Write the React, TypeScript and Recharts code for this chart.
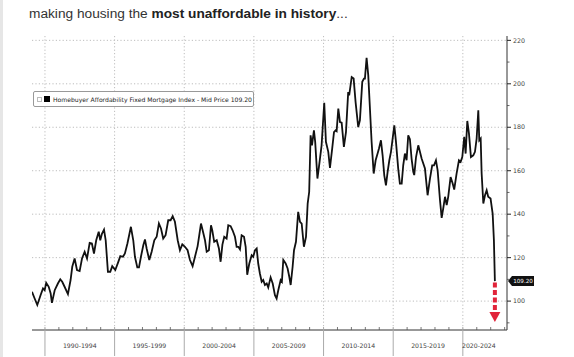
import React from 'react';
import { LineChart, Line, XAxis, YAxis, CartesianGrid, ReferenceDot } from 'recharts';

const years = [
  1989.07, 1989.26, 1989.45, 1989.69, 1989.86, 1989.98, 1990.09, 1990.27, 1990.41, 1990.5,
  1990.7, 1990.93, 1991.1, 1991.24, 1991.41, 1991.65, 1991.84, 1991.96, 1992.13, 1992.3,
  1992.49, 1992.66, 1992.85, 1993.02, 1993.21, 1993.37, 1993.52, 1993.68, 1993.86, 1993.97,
  1994.09, 1994.24, 1994.36, 1994.52, 1994.69, 1994.83, 1995.05, 1995.24, 1995.41, 1995.6,
  1995.74, 1995.92, 1996.17, 1996.34, 1996.46, 1996.63, 1996.75, 1996.89, 1997.06, 1997.18,
  1997.3, 1997.49, 1997.66, 1997.85, 1998.02, 1998.18, 1998.33, 1998.49, 1998.66, 1998.85,
  1999.02, 1999.17, 1999.33, 1999.53, 1999.69, 1999.86, 2000.05, 2000.24, 2000.41, 2000.6,
  2000.77, 2000.96, 2001.06, 2001.2, 2001.32, 2001.49, 2001.61, 2001.77, 2001.92, 2002.01,
  2002.15, 2002.33, 2002.49, 2002.61, 2002.74, 2002.87, 2003.04, 2003.16, 2003.33, 2003.47,
  2003.64, 2003.76, 2003.88, 2004.0, 2004.12, 2004.29, 2004.41, 2004.52, 2004.67, 2004.84,
  2004.95, 2005.08, 2005.2, 2005.31, 2005.43, 2005.56, 2005.67, 2005.79, 2005.92, 2006.03,
  2006.2, 2006.35, 2006.51, 2006.63, 2006.75, 2006.92, 2007.01, 2007.11, 2007.28, 2007.42,
  2007.54, 2007.64, 2007.78, 2007.88, 2008.02, 2008.18, 2008.31, 2008.43, 2008.59, 2008.74,
  2008.86, 2008.97, 2009.07, 2009.17, 2009.31, 2009.4, 2009.56, 2009.67, 2009.86, 2010.05,
  2010.17, 2010.34, 2010.46, 2010.62, 2010.75, 2010.87, 2010.94, 2011.06, 2011.18, 2011.3,
  2011.46, 2011.61, 2011.77, 2011.84, 2012.02, 2012.16, 2012.3, 2012.49, 2012.61, 2012.78,
  2012.9, 2012.97, 2013.09, 2013.21, 2013.33, 2013.45, 2013.6, 2013.74, 2013.88, 2013.98,
  2014.12, 2014.24, 2014.36, 2014.48, 2014.6, 2014.72, 2014.84, 2014.96, 2015.08, 2015.2,
  2015.36, 2015.48, 2015.61, 2015.72, 2015.84, 2015.96, 2016.08, 2016.2, 2016.32, 2016.44,
  2016.51, 2016.64, 2016.8, 2016.92, 2017.04, 2017.28, 2017.47, 2017.64, 2017.8, 2017.93,
  2018.07, 2018.19, 2018.36, 2018.48, 2018.59, 2018.72, 2018.84, 2018.95, 2019.12, 2019.27,
  2019.38, 2019.55, 2019.72, 2019.84, 2019.96, 2020.1, 2020.2, 2020.32, 2020.44, 2020.58,
  2020.75, 2020.87, 2020.99, 2021.11, 2021.18, 2021.28, 2021.35, 2021.47, 2021.59, 2021.71,
  2021.82, 2021.99, 2022.14, 2022.23, 2022.3,
];

const affordability = [
  104.3, 101.2, 98.2, 102.8, 105.8, 105.0, 108.4, 106.6, 103.5, 99.2,
  105.0, 108.1, 110.0, 108.9, 106.6, 103.2, 109.7, 115.8, 119.6, 114.3,
  113.8, 119.6, 122.7, 119.6, 126.8, 126.5, 121.9, 128.0, 131.9, 128.0,
  131.0, 132.9, 128.0, 113.5, 113.5, 116.1, 114.3, 117.6, 120.7, 120.4,
  121.9, 126.5, 134.2, 128.0, 120.4, 115.5, 115.5, 120.4, 125.7, 128.4,
  124.2, 118.9, 122.7, 128.0, 129.6, 135.7, 133.4, 128.8, 130.3, 137.2,
  137.2, 139.1, 136.5, 128.0, 123.4, 126.1, 125.0, 123.4, 118.9, 116.1,
  120.4, 125.3, 129.6, 135.7, 132.6, 128.0, 122.7, 123.4, 134.9, 132.6,
  127.3, 128.0, 124.2, 118.1, 126.0, 129.6, 128.8, 134.9, 134.5, 132.6,
  129.6, 125.0, 125.0, 123.8, 130.3, 129.6, 125.0, 112.1, 117.3, 121.1,
  120.4, 123.4, 124.2, 117.3, 112.7, 108.9, 109.7, 107.4, 108.1, 106.3,
  110.9, 108.1, 102.7, 101.2, 105.0, 109.7, 108.9, 118.9, 117.3, 115.0,
  111.2, 107.4, 115.8, 123.4, 127.3, 141.1, 136.5, 135.7, 125.0, 129.6,
  144.9, 150.3, 176.3, 171.7, 178.6, 173.3, 156.4, 161.8, 171.7, 191.3,
  173.3, 168.7, 161.3, 170.2, 177.8, 178.6, 178.2, 188.6, 182.4, 182.1,
  171.0, 177.8, 196.2, 194.7, 203.1, 202.4, 191.6, 180.1, 183.2, 200.9,
  202.4, 202.4, 211.9, 203.9, 188.6, 173.3, 158.7, 164.8, 167.9, 170.2,
  174.0, 167.1, 157.9, 153.3, 159.5, 164.7, 168.7, 174.8, 180.9, 173.3,
  161.0, 154.1, 154.1, 162.5, 167.9, 164.8, 176.3, 174.5, 165.6, 159.5,
  158.0, 166.3, 171.7, 168.7, 165.6, 161.0, 148.7, 156.4, 162.5, 162.5,
  164.8, 160.2, 146.4, 138.3, 142.6, 148.0, 144.2, 148.0, 157.1, 154.1,
  151.3, 158.7, 164.8, 164.1, 166.3, 175.6, 167.9, 182.9, 177.1, 166.3,
  167.1, 168.7, 174.8, 187.8, 174.0, 174.8, 158.7, 144.9, 148.7, 151.0,
  148.0, 147.2, 140.3, 128.0, 109.2,
];

const periodLabels = ['1990-1994', '1995-1999', '2000-2004', '2005-2009', '2010-2014', '2015-2019', '2020-2024'];
const periodLabelYears = [1992.5, 1997.5, 2002.5, 2007.5, 2012.5, 2017.5, 2021.15];
const periodStarts = [1990, 1995, 2000, 2005, 2010, 2015, 2020];
const minorYears = [1991, 1992, 1993, 1994, 1996, 1997, 1998, 1999, 2001, 2002, 2003, 2004, 2006, 2007, 2008, 2009, 2011, 2012, 2013, 2014, 2016, 2017, 2018, 2019, 2021, 2022, 2023];
const yMajorTicks = [100, 120, 140, 160, 180, 200, 220];
const yMinorTicks = [90, 110, 130, 150, 170, 190, 210];
const arrowValues = [108.6, 94.5];

const seriesName = 'Homebuyer Affordability Fixed Mortgage Index - Mid Price';
const title = { normal: 'making housing the ', bold: 'most unaffordable in history', tail: '...' };

const data = years.map((x, i) => ({ x, v: affordability[i] }));
const lastYear = years[years.length - 1];
const lastValue = affordability[affordability.length - 1];
const arrowData = arrowValues.map((a) => ({ x: lastYear, a }));

const X_MIN = 1989.07;
const X_MAX = 2023.17;

const labelSet = new Set(periodLabelYears);
const startSet = new Set(periodStarts);

const axisFont = '"DejaVu Sans", sans-serif';

const XTick = (props: any) => {
  const { x, y, payload } = props;
  const v = payload.value;
  if (labelSet.has(v)) {
    const idx = periodLabelYears.indexOf(v);
    return (
      <text x={x} y={y + 18} textAnchor="middle" fontSize={6.2} fontFamily={axisFont} fill="#444">
        {periodLabels[idx]}
      </text>
    );
  }
  if (startSet.has(v)) {
    return <line x1={x} y1={y - 3} x2={x} y2={y + 26} stroke="#aaa" strokeWidth={1} />;
  }
  return <line x1={x} y1={y} x2={x} y2={y - 3} stroke="#555" strokeWidth={0.8} />;
};

const YTick = (props: any) => {
  const { x, y, payload } = props;
  const v = payload.value;
  if (v % 20 === 0) {
    return (
      <g>
        <line x1={x} y1={y} x2={x + 4} y2={y} stroke="#222" strokeWidth={1} />
        <text x={x + 6} y={y + 2.2} fontSize={6.3} fontFamily={axisFont} fill="#444">
          {v}
        </text>
      </g>
    );
  }
  return <line x1={x} y1={y} x2={x + 2.5} y2={y} stroke="#444" strokeWidth={0.8} />;
};

const LastValueTag = (props: any) => {
  const { cx, cy } = props;
  if (cx == null || cy == null) return null;
  const x0 = cx + 1;
  const h = 10;
  const w = 26;
  const path = `M ${x0} ${cy} L ${x0 + 4} ${cy - h / 2} L ${x0 + w} ${cy - h / 2} L ${x0 + w} ${cy + h / 2} L ${x0 + 4} ${cy + h / 2} Z`;
  return (
    <g>
      <path d={path} fill="#111" />
      <text x={x0 + 4 + (w - 4) / 2} y={cy + 2} textAnchor="middle" fontSize={5.6} fontFamily={axisFont} fill="#fff">
        {lastValue.toFixed(2)}
      </text>
    </g>
  );
};

const ArrowHead = (props: any) => {
  const { cx, cy, index } = props;
  if (index !== arrowData.length - 1 || cx == null) return <g key={`ah${index}`} />;
  return (
    <polygon
      key={`ah${index}`}
      points={`${cx - 5.5},${cy - 1} ${cx + 5.5},${cy - 1} ${cx},${cy + 9}`}
      fill="#e1243a"
    />
  );
};

export default function App() {
  return (
    <div style={{ position: 'absolute', left: 0, top: 0, width: 574, height: 357, background: '#fff', overflow: 'hidden' }}>
      <div style={{ position: 'absolute', left: 0, top: 0, width: 3, height: 357, background: '#e6e6e6' }} />
      <LineChart width={574} height={357} data={data} margin={{ top: 36, right: 7, bottom: 0, left: 32 }}>
        <CartesianGrid
          stroke="#bdbdbd"
          strokeDasharray="1.2 2.2"
          horizontalValues={yMajorTicks}
          verticalValues={periodStarts}
        />
        <XAxis
          dataKey="x"
          type="number"
          domain={[X_MIN, X_MAX]}
          allowDataOverflow
          ticks={[...periodStarts, ...minorYears, ...periodLabelYears]}
          interval={0}
          tick={<XTick />}
          tickLine={false}
          tickSize={0}
          tickMargin={0}
          height={27}
          axisLine={{ stroke: '#333', strokeWidth: 1 }}
        />
        <YAxis
          orientation="right"
          type="number"
          domain={[86.7, 222]}
          allowDataOverflow
          ticks={[...yMinorTicks, ...yMajorTicks].sort((a, b) => a - b)}
          interval={0}
          tick={<YTick />}
          tickLine={false}
          tickSize={0}
          tickMargin={0}
          width={60}
          axisLine={{ stroke: '#333', strokeWidth: 1 }}
        />
        <Line
          type="linear"
          dataKey="v"
          stroke="#111"
          strokeWidth={1.8}
          dot={false}
          isAnimationActive={false}
          name={seriesName}
        />
        <Line
          type="linear"
          data={arrowData}
          dataKey="a"
          stroke="#e1243a"
          strokeWidth={4}
          strokeDasharray="5 2.5"
          dot={<ArrowHead />}
          activeDot={false}
          isAnimationActive={false}
          legendType="none"
        />
        <ReferenceDot x={X_MAX} y={lastValue} r={0} ifOverflow="visible" shape={<LastValueTag />} />
      </LineChart>
      <div
        style={{
          position: 'absolute',
          left: 29,
          top: 6,
          fontFamily: '"Liberation Sans", Arial, sans-serif',
          fontSize: 13.7,
          color: '#333',
          whiteSpace: 'nowrap',
        }}
      >
        {title.normal}
        <b style={{ color: '#222' }}>{title.bold}</b>
        {title.tail}
      </div>
      <div
        style={{
          position: 'absolute',
          left: 33,
          top: 91,
          width: 219,
          height: 14,
          border: '1px solid #999',
          borderRadius: 2,
          background: '#fff',
          display: 'flex',
          alignItems: 'center',
          fontFamily: axisFont,
          fontSize: 6.1,
          color: '#222',
          whiteSpace: 'nowrap',
          overflow: 'hidden',
        }}
      >
        <span style={{ display: 'inline-block', width: 3, height: 3, border: '1px solid #bbb', marginLeft: 3, marginRight: 2 }} />
        <span style={{ display: 'inline-block', width: 6, height: 6, background: '#000', marginRight: 3 }} />
        <span>{`${seriesName} ${lastValue.toFixed(2)}`}</span>
      </div>
    </div>
  );
}
